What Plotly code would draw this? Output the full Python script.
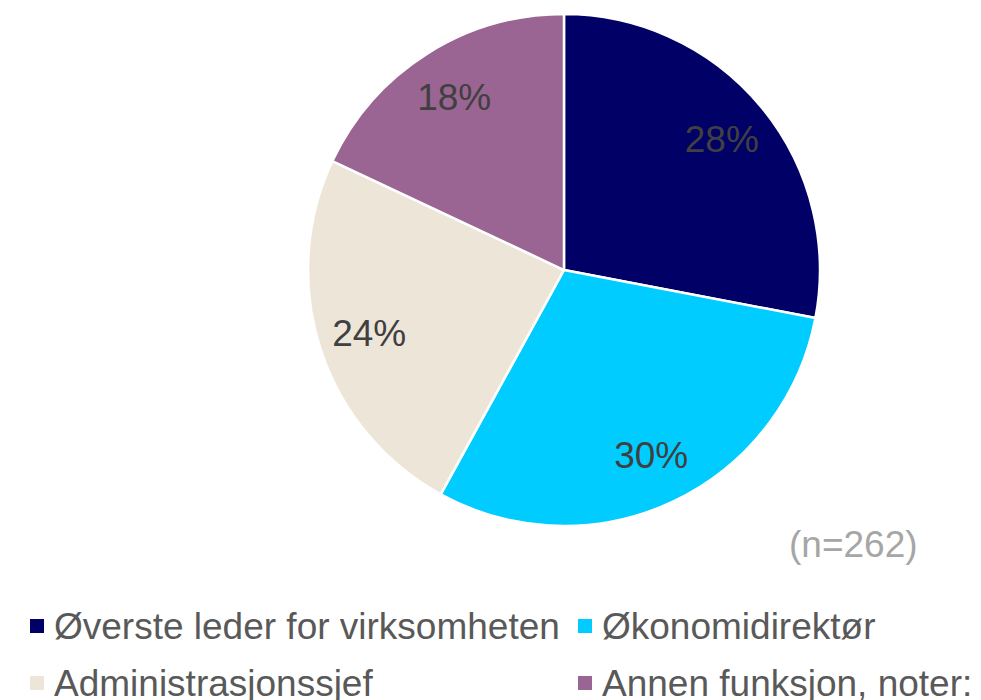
import plotly.graph_objects as go

roles = ['Øverste leder for virksomheten', 'Økonomidirektør', 'Administrasjonssjef', 'Annen funksjon, noter:']
shares = [28, 30, 24, 18]
colors = ['#000066', '#00CCFF', '#EEE5D9', '#9B6593']
sample_note = '(n=262)'

font_family = 'Liberation Sans, Arial, sans-serif'
W, H = 981, 700
pie_domain = dict(x=[0.3058, 0.8277], y=[0.26, 0.9914])

fig = go.Figure()

# the coloured slices
fig.add_trace(go.Pie(
    labels=roles,
    values=shares,
    sort=False,
    direction='clockwise',
    rotation=0,
    marker=dict(colors=colors, line=dict(color='white', width=2.5)),
    textinfo='none',
    hoverinfo='label+percent',
    showlegend=False,
    domain=pie_domain,
))

# transparent ring on top, only to put the percent labels out towards the rim
fig.add_trace(go.Pie(
    labels=roles,
    values=shares,
    sort=False,
    direction='clockwise',
    rotation=0,
    hole=0.6,
    marker=dict(colors=['rgba(0,0,0,0)'] * len(roles), line=dict(width=0)),
    texttemplate='%{value}%',
    textposition='inside',
    insidetextorientation='horizontal',
    textfont=dict(size=37, color='#404040', family=font_family),
    hoverinfo='skip',
    showlegend=False,
    domain=pie_domain,
))

fig.update_layout(
    width=W,
    height=H,
    margin=dict(l=0, r=0, t=0, b=0),
    paper_bgcolor='white',
    font=dict(family=font_family, size=37, color='#595959'),
    showlegend=False,
)

# legend, two columns like the original (bottom row is cut by the edge there too)
legend_cols = [22, 570]
legend_rows = [618, 675]
for i, (role, color) in enumerate(zip(roles, colors)):
    cx = legend_cols[i % 2]
    cy = legend_rows[i // 2]
    fig.add_shape(
        type='rect',
        xref='paper', yref='paper',
        x0=cx / W, x1=(cx + 14) / W,
        y0=1 - (cy + 7) / H, y1=1 - (cy - 7) / H,
        fillcolor=color,
        line=dict(width=0),
    )
    fig.add_annotation(
        text=role,
        xref='paper', yref='paper',
        x=(cx + 22) / W, y=1 - cy / H,
        xanchor='left', yanchor='middle',
        showarrow=False,
        font=dict(size=37, color='#595959'),
    )

fig.add_annotation(
    text=sample_note,
    x=0.8614,
    y=0.2329,
    xref='paper',
    yref='paper',
    xanchor='center',
    yanchor='middle',
    showarrow=False,
    font=dict(size=37, color='#A6A6A6'),
)

fig.write_html('out.html')
